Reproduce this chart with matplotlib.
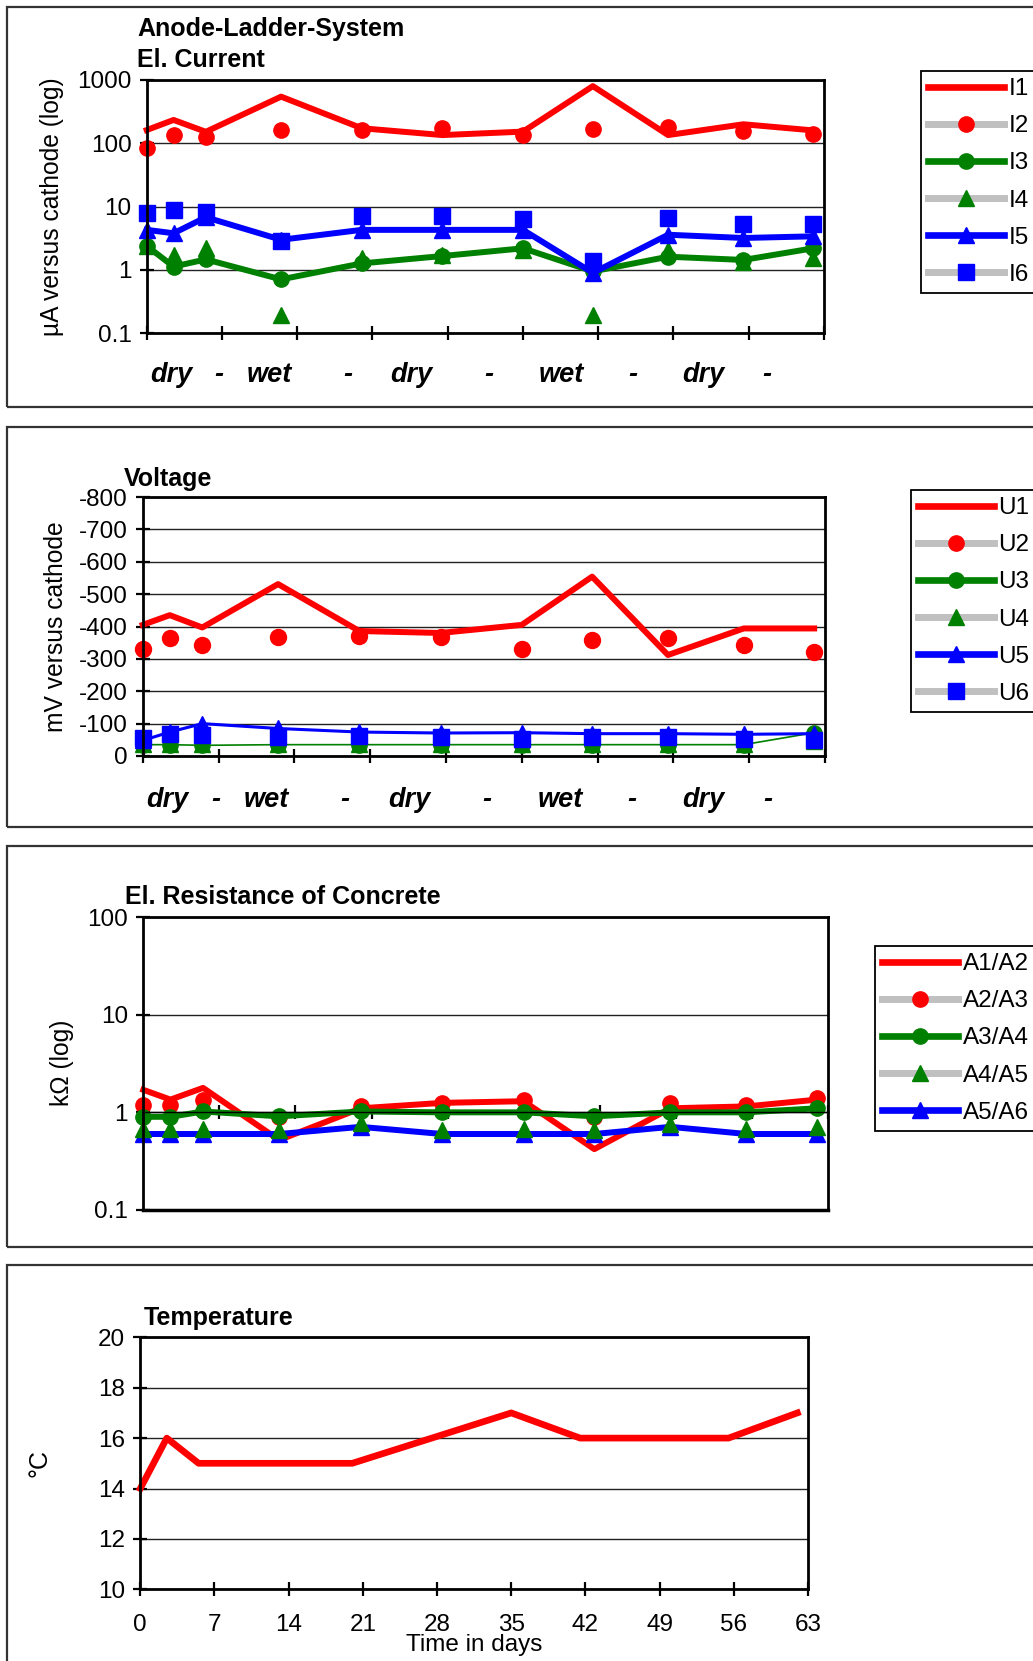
import matplotlib
matplotlib.use("Agg")
import matplotlib.pyplot as plt
from matplotlib.lines import Line2D
from matplotlib.patches import Rectangle
from matplotlib.ticker import NullLocator

plt.rcParams['font.family'] = ['Liberation Sans', 'DejaVu Sans']
plt.rcParams['axes.unicode_minus'] = False

# measurement days (shared by all panels)
days = [0, 2.5, 5.5, 12.5, 20, 27.5, 35, 41.5, 48.5, 55.5, 62]

# el. current, microampere
I1 = [162, 234, 152, 546, 173, 135, 153, 800, 135, 200, 160]
I2 = [83, 135, 127, 163, 163, 172, 135, 168, 179, 158, 140]
I3 = [2.4, 1.13, 1.47, 0.71, 1.27, 1.66, 2.2, 0.95, 1.62, 1.44, 2.2]
I4 = [2.4, 1.72, 2.2, 0.195, 1.53, 1.72, 2.1, 0.195, 2.1, 1.35, 1.53]
I5 = [4.3, 3.8, 6.8, 3.0, 4.3, 4.3, 4.3, 0.9, 3.6, 3.2, 3.4]
I6 = [7.8, 9.0, 8.3, 2.9, 7.1, 7.1, 6.3, 1.4, 6.5, 5.3, 5.3]

# voltage, mV
U1 = [-405, -435, -397, -531, -386, -380, -405, -554, -312, -394, -394]
U2 = [-329, -366, -343, -368, -370, -368, -329, -358, -363, -343, -322]
U3 = [-35, -35, -33, -35, -35, -35, -35, -35, -35, -35, -72]
U4 = [-38, -38, -36, -38, -38, -38, -38, -38, -38, -38, -45]
U5 = [-48, -74, -100, -85, -74, -71, -72, -69, -69, -67, -69]
U6 = [-57, -69, -64, -59, -61, -59, -54, -59, -59, -54, -48]

# resistance, kOhm
A12 = [1.7, 1.35, 1.78, 0.52, 1.1, 1.25, 1.3, 0.42, 1.1, 1.15, 1.35]
A23 = [1.2, 1.2, 1.35, 0.9, 1.15, 1.25, 1.35, 0.9, 1.25, 1.2, 1.4]
A34 = [0.9, 0.9, 1.02, 0.91, 1.02, 1.0, 1.0, 0.91, 1.0, 1.0, 1.1]
A45 = [0.68, 0.68, 0.68, 0.66, 0.78, 0.66, 0.68, 0.66, 0.76, 0.68, 0.7]
A56 = [0.6, 0.6, 0.6, 0.6, 0.71, 0.6, 0.6, 0.6, 0.71, 0.6, 0.6]

# temperature, deg C
temp = [14, 16, 15, 15, 15, 16, 17, 16, 16, 16, 17]

season_days = [2.3, 6.7, 11.4, 18.7, 24.6, 31.8, 38.6, 45.2, 51.8, 57.7]
season_text = ['dry', '-', 'wet', '-', 'dry', '-', 'wet', '-', 'dry', '-']
day_ticks = list(range(0, 64, 7))

RED, GREEN, BLUE, GRAY = '#ff0000', '#008000', '#0000ff', '#c0c0c0'
LW = 4.3
MS = 11
FS = 17.5

W, H = 1033, 1661
fig = plt.figure(figsize=(W / 100, H / 100), dpi=100)


def box(l, t, r, b):
    return [l / W, 1 - b / H, (r - l) / W, (b - t) / H]


def fig_text(x, y, s, **kw):
    fig.text(x / W, 1 - y / H, s, **kw)


# panel frames
for y0, y1 in [(7, 407), (427, 827), (846, 1247), (1265, 1680)]:
    fig.patches.append(Rectangle((7 / W, 1 - y1 / H), 1.1, (y1 - y0) / H,
                                 transform=fig.transFigure, fill=False,
                                 edgecolor='#333333', linewidth=1.6))


def base_style(ax):
    for s in ax.spines.values():
        s.set_linewidth(2)
    ax.grid(True, axis='y', color='#222222', linewidth=1)
    ax.set_axisbelow(True)
    ax.set_xlim(0, 63)
    ax.set_xticks(day_ticks)
    ax.tick_params(direction='inout', length=10, width=1.6, labelsize=FS, pad=6)


def add_legend(handles, labels, left, top):
    leg = fig.legend(handles, labels, loc='upper left',
                     bbox_to_anchor=(left / W, 1 - top / H), bbox_transform=fig.transFigure,
                     borderaxespad=0, fancybox=False, edgecolor='black', framealpha=1,
                     fontsize=17.5, handlelength=3.1, handletextpad=0.2,
                     labelspacing=0.62, borderpad=0.3)
    leg.get_frame().set_linewidth(1.3)


def h(color, marker=None, mcolor=None):
    return Line2D([], [], color=color, lw=5 if color == GRAY else 4.8, marker=marker,
                  markersize=MS, markerfacecolor=mcolor, markeredgecolor=mcolor)


def seasons(ax, off):
    for d, s in zip(season_days, season_text):
        ax.annotate(s, xy=(d, 0), xycoords=('data', 'axes fraction'),
                    xytext=(0, -off), textcoords='offset pixels', ha='center', va='center',
                    fontsize=19.5, fontweight='bold', fontstyle='italic')


# ---- panel 1: el. current
ax1 = fig.add_axes(box(146.7, 80, 824, 333.3))
ax1.set_yscale('log')
ax1.set_ylim(0.1, 1000)
base_style(ax1)
ax1.set_yticks([0.1, 1, 10, 100, 1000], ['0.1', '1', '10', '100', '1000'])
ax1.yaxis.set_minor_locator(NullLocator())
ax1.set_xticklabels([])
ax1.plot(days, I1, color=RED, lw=LW, clip_on=False)
ax1.plot(days, I2, ls='none', marker='o', ms=MS, color=RED, clip_on=False)
ax1.plot(days, I3, color=GREEN, lw=LW, marker='o', ms=MS, clip_on=False)
ax1.plot(days, I4, ls='none', marker='^', ms=MS, color=GREEN, clip_on=False)
ax1.plot(days, I5, color=BLUE, lw=LW, marker='^', ms=MS, clip_on=False)
ax1.plot(days, I6, ls='none', marker='s', ms=MS, color=BLUE, clip_on=False)
seasons(ax1, 42)
fig_text(137, 29, 'Anode-Ladder-System', fontsize=18, fontweight='bold', va='center')
fig_text(137, 60, 'El. Current', fontsize=18, fontweight='bold', va='center')
fig_text(52, 207, 'µA versus cathode (log)', fontsize=17.7, rotation=90, ha='center', va='center')
add_legend([h(RED), h(GRAY, 'o', RED), h(GREEN, 'o', GREEN), h(GRAY, '^', GREEN),
            h(BLUE, '^', BLUE), h(GRAY, 's', BLUE)],
           ['I1', 'I2', 'I3', 'I4', 'I5', 'I6'], 921, 71)

# ---- panel 2: voltage
ax2 = fig.add_axes(box(142.7, 497, 825, 756))
ax2.set_ylim(0, -800)
base_style(ax2)
ax2.set_yticks(range(0, -801, -100))
ax2.set_xticklabels([])
ax2.plot(days, U1, color=RED, lw=LW, clip_on=False)
ax2.plot(days, U2, ls='none', marker='o', ms=MS + 0.5, color=RED, clip_on=False)
ax2.plot(days, U3, color=GREEN, lw=1.2, marker='o', ms=MS, clip_on=False)
ax2.plot(days, U4, ls='none', marker='^', ms=MS, color=GREEN, clip_on=False)
ax2.plot(days, U5, color=BLUE, lw=2.2, marker='^', ms=MS, clip_on=False)
ax2.plot(days, U6, ls='none', marker='s', ms=MS + 0.5, color=BLUE, clip_on=False)
seasons(ax2, 44)
fig_text(124, 479, 'Voltage', fontsize=18, fontweight='bold', va='center')
fig_text(56, 627, 'mV versus cathode', fontsize=17.7, rotation=90, ha='center', va='center')
add_legend([h(RED), h(GRAY, 'o', RED), h(GREEN, 'o', GREEN), h(GRAY, '^', GREEN),
            h(BLUE, '^', BLUE), h(GRAY, 's', BLUE)],
           ['U1', 'U2', 'U3', 'U4', 'U5', 'U6'], 911, 490)

# ---- panel 3: resistance
ax3 = fig.add_axes(box(143.3, 917, 828, 1210))
ax3.set_yscale('log')
ax3.set_ylim(0.1, 100)
base_style(ax3)
ax3.set_yticks([0.1, 1, 10, 100], ['0.1', '1', '10', '100'])
ax3.yaxis.set_minor_locator(NullLocator())
ax3.spines['bottom'].set_position(('data', 1))
ax3.spines['bottom'].set_linewidth(1)
ax3.plot([0, 1], [0, 0], transform=ax3.transAxes, color='black', lw=2.5, clip_on=False)
ax3.set_xticklabels([str(d) for d in day_ticks])
ax3.tick_params(axis='x', labelcolor='white', pad=9)
ax3.plot(days, A12, color=RED, lw=LW, clip_on=False)
ax3.plot(days, A23, ls='none', marker='o', ms=MS, color=RED, clip_on=False)
ax3.plot(days, A34, color=GREEN, lw=LW, marker='o', ms=MS, clip_on=False)
ax3.plot(days, A56, color=BLUE, lw=LW, marker='^', ms=MS, clip_on=False)
ax3.plot(days, A45, ls='none', marker='^', ms=MS, color=GREEN, clip_on=False)
fig_text(125, 897, 'El. Resistance of Concrete', fontsize=18, fontweight='bold', va='center')
fig_text(62, 1063, 'kΩ (log)', fontsize=17.7, rotation=90, ha='center', va='center')
add_legend([h(RED), h(GRAY, 'o', RED), h(GREEN, 'o', GREEN), h(GRAY, '^', GREEN),
            h(BLUE, '^', BLUE)],
           ['A1/A2', 'A2/A3', 'A3/A4', 'A4/A5', 'A5/A6'], 875, 946)

# ---- panel 4: temperature
ax4 = fig.add_axes(box(140.3, 1337.3, 808, 1589.3))
ax4.set_ylim(10, 20)
base_style(ax4)
ax4.set_yticks(range(10, 21, 2))
ax4.tick_params(axis='x', pad=13)
ax4.plot(days, temp, color=RED, lw=LW + 0.5, clip_on=False)
fig_text(143.6, 1318, 'Temperature', fontsize=18, fontweight='bold', va='center')
fig_text(40, 1463, '°C', fontsize=18, rotation=90, ha='center', va='center')
fig_text(474, 1645, 'Time in days', fontsize=17.5, ha='center', va='center')

fig.savefig('out.png', dpi=100)
